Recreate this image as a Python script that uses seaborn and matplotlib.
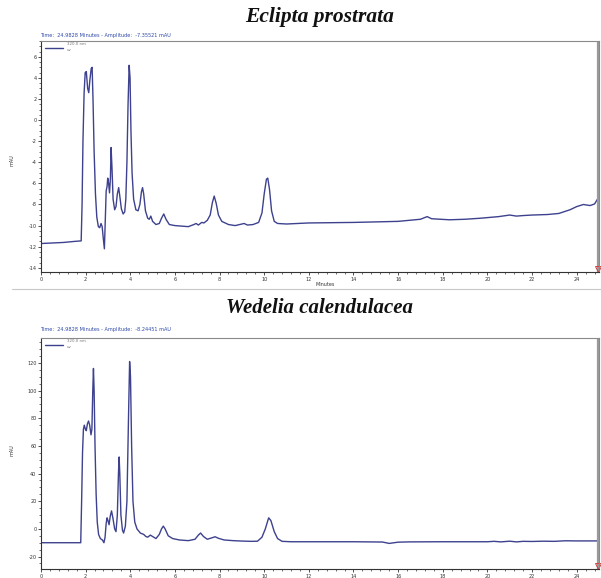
import matplotlib
matplotlib.use("Agg")
import matplotlib.pyplot as plt
import seaborn as sns
import pandas as pd
from matplotlib.lines import Line2D
from matplotlib.ticker import MultipleLocator

sns.set_style("white")
plt.rcParams['font.family'] = ['DejaVu Sans']

# ---------------- data ----------------
titles = ["Eclipta prostrata", "Wedelia calendulacea"]
headers = ["Time:  24.9828 Minutes - Amplitude:  -7.35521 mAU",
           "Time:  24.9828 Minutes - Amplitude:  -8.24451 mAU"]
legend_label = "320.0 nm"
legend_sub = "uv"
x_label = "Minutes"
y_label = "mAU"

eclipta_t = [0.0, 0.5, 1.0, 1.5, 1.8, 1.84, 1.88, 1.93, 1.98, 2.03, 2.09, 2.14, 2.19, 2.25, 2.29,
             2.33, 2.38, 2.44, 2.50, 2.57, 2.63, 2.69, 2.74, 2.79, 2.84, 2.88, 2.92, 2.96, 2.99,
             3.03, 3.07, 3.11, 3.14, 3.18, 3.23, 3.30, 3.36, 3.42, 3.48, 3.53, 3.60, 3.68, 3.75,
             3.80, 3.85, 3.90, 3.95, 3.99, 4.03, 4.08, 4.15, 4.25, 4.35, 4.43, 4.50, 4.55, 4.60,
             4.68, 4.78, 4.85, 4.92, 5.00, 5.15, 5.30, 5.40, 5.50, 5.60, 5.75, 6.0, 6.3, 6.6,
             6.85, 6.95, 7.05, 7.2, 7.3, 7.45, 7.58, 7.68, 7.76, 7.85, 7.95, 8.1, 8.4, 8.7, 9.0,
             9.1, 9.25, 9.5, 9.75, 9.9, 10.0, 10.1, 10.16, 10.24, 10.33, 10.45, 10.6, 11.0,
             12.0, 14.0, 16.0, 16.5, 17.0, 17.3, 17.5, 18.3, 19.0, 19.7, 20.5, 21.0, 21.3,
             21.6, 22.0, 22.7, 23.2, 23.7, 24.0, 24.3, 24.6, 24.8, 24.96]
eclipta_mau = [-11.7, -11.65, -11.6, -11.5, -11.45, -8.0, -2.0, 2.5, 4.5, 4.6, 3.0, 2.6, 3.8, 4.9, 5.0,
               2.0, -3.0, -7.0, -9.2, -10.1, -10.2, -9.8, -10.1, -11.2, -12.2, -9.5, -6.7, -6.3, -5.5,
               -6.0, -6.9, -5.5, -2.6, -4.5, -7.5, -8.5, -8.2, -7.0, -6.4, -7.2, -8.4, -8.9, -8.7,
               -7.5, -4.0, 1.5, 5.2, 4.0, -1.0, -5.0, -7.5, -8.5, -8.6, -8.0, -6.8, -6.4, -7.0,
               -8.6, -9.3, -9.4, -9.1, -9.6, -9.9, -9.8, -9.3, -8.9, -9.4, -9.9, -10.0, -10.05, -10.1,
               -9.9, -9.8, -9.95, -9.7, -9.75, -9.5, -9.0, -7.8, -7.2, -7.9, -9.0, -9.6, -9.9, -10.0, -9.85,
               -9.8, -9.95, -9.9, -9.7, -8.8, -7.0, -5.6, -5.5, -6.6, -8.6, -9.6, -9.8, -9.85,
               -9.75, -9.7, -9.6, -9.5, -9.4, -9.15, -9.35, -9.45, -9.4, -9.3, -9.15, -9.0, -9.1,
               -9.05, -9.0, -8.95, -8.85, -8.5, -8.2, -8.0, -8.1, -7.95, -7.4]

wedelia_t = [0.0, 1.0, 1.78, 1.82, 1.86, 1.90, 1.94, 1.99, 2.03, 2.08, 2.13, 2.18, 2.24, 2.28, 2.32,
             2.35, 2.38, 2.42, 2.47, 2.52, 2.58, 2.66, 2.75, 2.82, 2.87, 2.92, 2.96, 3.0, 3.05,
             3.10, 3.16, 3.22, 3.30, 3.36, 3.42, 3.47, 3.50, 3.53, 3.58, 3.65, 3.70, 3.78, 3.85,
             3.92, 3.97, 4.01, 4.06, 4.12, 4.20, 4.30, 4.45, 4.60, 4.70, 4.78, 4.90, 5.00, 5.15,
             5.30, 5.40, 5.48, 5.56, 5.7, 5.9, 6.2, 6.6, 6.9, 7.05, 7.15, 7.28, 7.45, 7.65, 7.8,
             7.95, 8.2, 8.6, 9.0, 9.4, 9.7, 9.9, 10.05, 10.2, 10.3, 10.45, 10.6, 10.8, 11.2, 12.0,
             14.0, 15.3, 15.6, 16.0, 16.5, 18.0, 20.0, 20.3, 20.6, 21.0, 21.3, 21.6, 22.0, 22.5,
             23.0, 23.5, 24.0, 24.96]
wedelia_mau = [-10, -10, -10, 20, 55, 72, 75, 72, 71, 76, 78, 75, 68, 72, 100,
               116, 100, 60, 25, 5, -4, -7, -8, -10, -6, 4, 8, 6, 3,
               9, 13, 8, 0, -2, 10, 40, 52, 40, 10, -1, -3, 2, 20,
               80, 121, 110, 60, 20, 5, 0, -3, -4, -5.5, -6, -4.5, -5.5, -7,
               -4, 0, 2, 0, -5, -7, -8, -8.5, -7.5, -4.5, -3, -5.5, -7.5, -6.5, -5.7,
               -6.8, -8, -8.5, -8.8, -9.0, -8.9, -6, 0, 8, 6, -2, -7, -9, -9.3, -9.3,
               -9.3, -9.5, -10.5, -9.6, -9.4, -9.3, -9.3, -9.0, -9.4, -8.9, -9.4, -9.0, -9.1, -8.9,
               -9.0, -8.6, -8.7, -8.7]

x_ticks = list(range(0, 26, 2))
eclipta_yticks = [-14, -12, -10, -8, -6, -4, -2, 0, 2, 4, 6]
wedelia_yticks = [-20, 0, 20, 40, 60, 80, 100, 120]

# ---------------- figure ----------------
W, H = 601, 578
fig = plt.figure(figsize=(W / 100, H / 100), dpi=100)
line_color = "#3d418e"

def fy(py):
    return 1 - py / H

panels = [
    dict(t=eclipta_t, y=eclipta_mau, top=41, bottom=272, ylim=(-14.4, 7.5),
         yticks=eclipta_yticks, yminor=0.5, title_y=17, header_y=35, title=titles[0],
         header=headers[0], ylabel_y=160, tfs=15.5),
    dict(t=wedelia_t, y=wedelia_mau, top=338, bottom=569, ylim=(-29, 138),
         yticks=wedelia_yticks, yminor=5, title_y=308, header_y=330, title=titles[1],
         header=headers[1], ylabel_y=450, tfs=15),
]

for p in panels:
    ax = fig.add_axes([41 / W, fy(p["bottom"]), (599 - 41) / W, (p["bottom"] - p["top"]) / H])
    df = pd.DataFrame({"Minutes": p["t"], "mAU": p["y"]})
    sns.lineplot(data=df, x="Minutes", y="mAU", ax=ax, color=line_color, lw=1.0,
                 sort=False, estimator=None)
    ax.set_xlim(0, 25)
    ax.set_ylim(*p["ylim"])
    ax.set_xticks(x_ticks)
    ax.set_xticklabels([str(v) for v in x_ticks])
    ax.set_yticks(p["yticks"])
    ax.set_yticklabels([str(v) for v in p["yticks"]])
    ax.xaxis.set_minor_locator(MultipleLocator(0.4))
    ax.yaxis.set_minor_locator(MultipleLocator(p["yminor"]))
    ax.tick_params(axis="both", which="major", labelsize=3.5, length=2.5, width=0.6,
                   colors="#333333", pad=0.8, bottom=True, left=True)
    ax.tick_params(axis="both", which="minor", length=1.3, width=0.5, colors="#333333",
                   bottom=True, left=True)
    ax.set_xlabel("")
    ax.set_ylabel("")
    for side, sp in ax.spines.items():
        sp.set_visible(True)
        sp.set_linewidth(0.8)
        sp.set_color("#8a8a8a")
    ax.spines["left"].set_color("#333333")
    ax.spines["bottom"].set_color("#333333")
    # cursor line at end of run
    ax.axvline(24.96, color="#9a9a9a", lw=1.6)
    ax.plot([24.96], [p["ylim"][0] + 0.012 * (p["ylim"][1] - p["ylim"][0])], marker="v",
            ms=4, mfc="none", mec="#d04040", mew=0.7, clip_on=False)
    # legend
    ax.add_line(Line2D([0.008, 0.04], [0.97, 0.97], transform=ax.transAxes,
                       color=line_color, lw=1.0))
    ax.text(0.046, 0.985, legend_label, transform=ax.transAxes, fontsize=2.8,
            color="#777777", va="center", ha="left")
    ax.text(0.046, 0.96, legend_sub, transform=ax.transAxes, fontsize=2.8,
            color="#777777", va="center", ha="left")
    # header / titles
    fig.text(40 / W, fy(p["header_y"]), p["header"], fontsize=3.6, color="#2f49a8",
             ha="left", va="center")
    fig.text(320 / W, fy(p["title_y"]), p["title"], fontsize=p["tfs"], fontweight="bold",
             fontstyle="italic", family="Liberation Serif", ha="center", va="center",
             color="#111111")
    fig.text(12 / W, fy(p["ylabel_y"]), y_label, fontsize=3.5, rotation=90,
             ha="center", va="center", color="#333333")

fig.text(325 / W, fy(284.5), x_label, fontsize=3.5, ha="center", va="center", color="#333333")
fig.add_artist(Line2D([12 / W, 1.0], [fy(289), fy(289)], transform=fig.transFigure,
                      color="#c8c8c8", lw=0.8))

fig.savefig("out.png", dpi=100)
